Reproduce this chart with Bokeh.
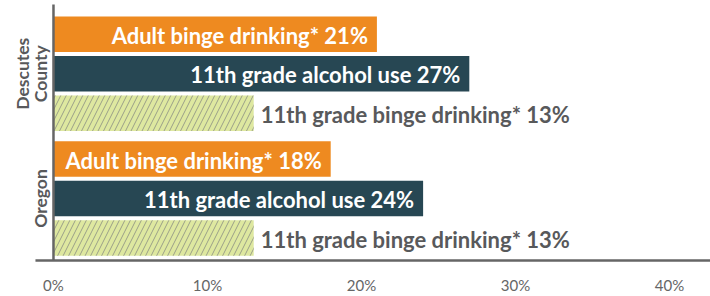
from bokeh.plotting import figure
from bokeh.models import Range1d, FixedTicker, PrintfTickFormatter, ColumnDataSource
from bokeh.core.properties import value
from bokeh.embed import file_html
from bokeh.resources import INLINE
import math

groups = ["Descutes County", "Oregon"]
group_lines = [["Descutes", "County"], ["Oregon"]]
measures = ["Adult binge drinking* ", "11th grade alcohol use ", "11th grade binge drinking* "]
descutes_values = [21, 27, 13]
oregon_values = [18, 24, 13]
x_ticks = [0, 10, 20, 30, 40]

FONT = "Lato"
ORANGE = "#EE8A20"
DARK = "#274753"
GREEN = "#DEE8A0"
GRAY = "#58595B"

GROUP_GAP = 0.16
x_range = Range1d(-3.44, 42.66)
y_range = Range1d(5.805, -0.854)

p = figure(width=710, height=296, x_range=x_range, y_range=y_range,
           output_backend="svg", toolbar_location=None,
           min_border_left=0, min_border_right=0, min_border_top=0, min_border_bottom=23,
           y_axis_location=None)
p.outline_line_color = None
p.grid.visible = False
p.background_fill_color = "white"

all_values = [descutes_values, oregon_values]
fills = [ORANGE, DARK, GREEN]
ys, vals, cols, hatch, labels = [], [], [], [], []
for g, vlist in enumerate(all_values):
    for i, v in enumerate(vlist):
        ys.append(g * (len(measures) + GROUP_GAP) + i)
        vals.append(v)
        cols.append(fills[i])
        hatch.append("/" if i == 2 else " ")
        labels.append(f"{measures[i]}{v}%")

src = ColumnDataSource(dict(y=ys, right=vals, left=[0] * len(vals), color=cols, hatch=hatch, label=labels))
p.hbar(y="y", left="left", right="right", height=0.9, source=src,
       fill_color="color", line_color=None, hatch_pattern="hatch",
       hatch_color="#9A9F88", hatch_scale=11, hatch_weight=1)

inside = [k for k in range(len(vals)) if hatch[k] == " "]
outside = [k for k in range(len(vals)) if hatch[k] != " "]
src_in = ColumnDataSource(dict(x=[vals[k] for k in inside], y=[ys[k] for k in inside], t=[labels[k] for k in inside]))
src_out = ColumnDataSource(dict(x=[vals[k] for k in outside], y=[ys[k] for k in outside], t=[labels[k] for k in outside]))
p.text(x="x", y="y", text="t", source=src_in, text_align="right", text_baseline="middle",
       x_offset=-9, y_offset=1, text_color="white", text_font=value(FONT), text_font_style="bold",
       text_font_size="22px")
p.text(x="x", y="y", text="t", source=src_out, text_align="left", text_baseline="middle",
       x_offset=7, y_offset=1, text_color=GRAY, text_font=value(FONT), text_font_style="bold",
       text_font_size="22px")

# group labels
gl_x, gl_y, gl_t = [], [], []
for g, lines in enumerate(group_lines):
    mid = g * (len(measures) + GROUP_GAP) + 1
    n = len(lines)
    for j, line in enumerate(lines):
        gl_x.append(-0.84 - (n - 1 - j) * 1.17)
        gl_y.append(mid)
        gl_t.append(line)
p.text(x=gl_x, y=gl_y, text=gl_t, angle=math.pi / 2, text_align="center", text_baseline="middle",
       text_color=GRAY, text_font=value(FONT), text_font_style="bold", text_font_size="17.5px")

# axis lines
y_bottom = 5.732
p.segment(x0=[0], y0=[-0.75], x1=[0], y1=[y_bottom], line_color="#666666", line_width=2.5)
p.segment(x0=[-1.17], y0=[y_bottom], x1=[x_range.end], y1=[y_bottom], line_color="#666666", line_width=2.5)

ax = p.xaxis[0]
ax.ticker = FixedTicker(ticks=x_ticks)
ax.formatter = PrintfTickFormatter(format="%d%%")
ax.axis_line_color = None
ax.major_tick_line_color = None
ax.minor_tick_line_color = None
ax.major_label_text_font = FONT
ax.major_label_text_font_size = "15px"
ax.major_label_text_color = "#666666"
ax.major_label_standoff = 6

open("out.html", "w").write(file_html(p, INLINE))
